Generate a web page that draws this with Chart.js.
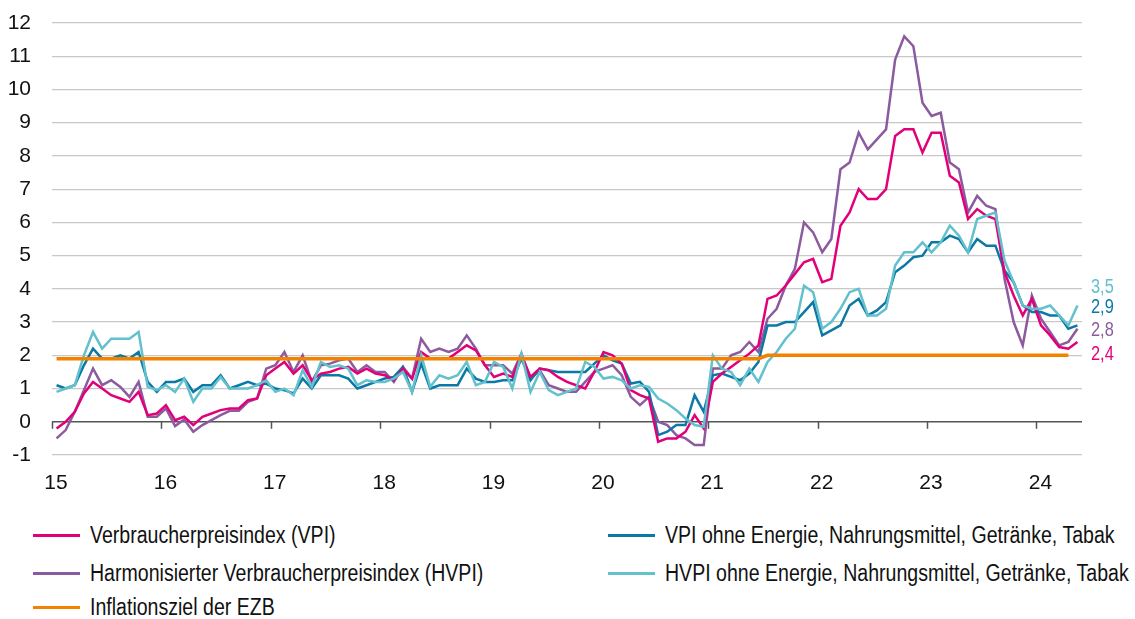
<!DOCTYPE html>
<html lang="de">
<head>
<meta charset="utf-8">
<script src="https://cdn.jsdelivr.net/npm/chart.js@4.4.1/dist/chart.umd.min.js"></script>
<style>
  html, body { margin: 0; padding: 0; background: #fff; }
  body { width: 1135px; height: 619px; position: relative; overflow: hidden;
         font-family: 'Liberation Sans', Arial, sans-serif; }
  #chart-box { position: absolute; left: 0; top: 0; width: 1135px; height: 510px; }
  .legend-item { position: absolute; height: 26px; display: flex; align-items: center;
                 font-size: 23px; color: #111; white-space: nowrap; }
  .legend-item .swatch { width: 47px; height: 3px; margin-right: 10px; flex: none; }
  .legend-item .txt { display: inline-block; transform: scaleX(0.85); transform-origin: left center; }
</style>
</head>
<body>
<div id="chart-box"><canvas id="inflation"></canvas></div>
<div id="legend"></div>

<script>
// Monatswerte Jan 2015 - Mai 2024, Veraenderung zum Vorjahresmonat in %
const firstYear = 2015;
const yearLabels = ['15', '16', '17', '18', '19', '20', '21', '22', '23', '24'];

const vpi = [
  -0.2, 0.0, 0.3, 0.85, 1.2, 1.0, 0.8, 0.7, 0.6, 0.9, 0.2, 0.25,
  0.5, 0.05, 0.15, -0.1, 0.15, 0.25, 0.35, 0.4, 0.4, 0.65, 0.7, 1.4,
  1.6, 1.8, 1.45, 1.7, 1.25, 1.45, 1.5, 1.6, 1.65, 1.45, 1.6, 1.45,
  1.4, 1.25, 1.6, 1.3, 2.1, 1.9, 1.9, 1.9, 2.1, 2.3, 2.15, 1.7,
  1.35, 1.45, 1.35, 2.0, 1.35, 1.6, 1.55, 1.35, 1.2, 1.1, 1.0, 1.5,
  2.1, 2.0, 1.75, 0.95, 0.8, 0.7, -0.6, -0.5, -0.5, -0.3, 0.2, -0.2,
  1.2, 1.45, 1.65, 1.85, 2.05, 2.3, 3.7, 3.8, 4.1, 4.45, 4.8, 4.9,
  4.2, 4.3, 5.9, 6.3, 7.0, 6.7, 6.7, 7.0, 8.6, 8.8, 8.8, 8.1,
  8.7, 8.7, 7.4, 7.2, 6.1, 6.4, 6.2, 6.1, 4.5, 3.8, 3.2, 3.7,
  2.9, 2.6, 2.25, 2.2, 2.4
];

const hvpi = [
  -0.5, -0.25, 0.3, 0.95, 1.6, 1.1, 1.25, 1.05, 0.75, 1.2, 0.15, 0.15,
  0.4, -0.13, 0.07, -0.3, -0.1, 0.05, 0.2, 0.33, 0.33, 0.6, 0.7, 1.6,
  1.7, 2.1, 1.5, 2.0, 1.2, 1.7, 1.75, 1.85, 1.9, 1.5, 1.7, 1.5,
  1.5, 1.2, 1.65, 1.3, 2.5, 2.1, 2.2, 2.1, 2.2, 2.6, 2.2, 1.7,
  1.7, 1.7, 1.45, 2.05, 1.3, 1.55, 1.1, 1.0, 0.9, 0.9, 1.2, 1.5,
  1.6, 1.7, 1.4, 0.75, 0.5, 0.75, 0.0, -0.1, -0.4, -0.5, -0.7, -0.7,
  1.6, 1.6, 2.0, 2.1, 2.4, 2.1, 3.1, 3.4, 4.1, 4.6, 6.0, 5.7,
  5.1, 5.5, 7.6, 7.8, 8.7, 8.2, 8.5, 8.8, 10.9, 11.6, 11.3, 9.6,
  9.2, 9.3, 7.8, 7.6, 6.3, 6.8, 6.5, 6.4, 4.3, 3.0, 2.3, 3.8,
  3.1, 2.7, 2.3, 2.4, 2.8
];

const vpiKern = [
  1.1, 1.0, 1.1, 1.7, 2.2, 1.9, 1.9, 2.0, 1.9, 2.1, 1.2, 0.9,
  1.2, 1.2, 1.3, 0.9, 1.1, 1.1, 1.4, 1.0, 1.1, 1.2, 1.1, 1.15,
  1.0, 0.95, 0.85, 1.3, 1.0, 1.4, 1.4, 1.4, 1.3, 1.0, 1.1, 1.2,
  1.3, 1.35, 1.65, 0.9, 1.75, 1.0, 1.1, 1.1, 1.1, 1.6, 1.3, 1.2,
  1.2, 1.25, 1.25, 1.9, 1.25, 1.6, 1.55, 1.5, 1.5, 1.5, 1.5, 1.75,
  2.0, 1.85, 1.75, 1.15, 1.2, 0.9, -0.4, -0.3, -0.1, -0.1, 0.8, 0.3,
  1.4, 1.45, 1.35, 1.25, 1.45, 1.8, 2.9, 2.9, 3.0, 3.0, 3.3, 3.6,
  2.6, 2.75, 2.9, 3.5, 3.7, 3.2, 3.35, 3.6, 4.5, 4.7, 4.95, 5.0,
  5.4, 5.4, 5.6, 5.5, 5.1, 5.5, 5.3, 5.3, 4.55, 4.2, 3.5, 3.3,
  3.3, 3.2, 3.2, 2.8, 2.9
];

const hvpiKern = [
  0.9, 1.0, 1.1, 2.0, 2.7, 2.2, 2.5, 2.5, 2.5, 2.7, 1.05, 0.95,
  1.1, 0.9, 1.3, 0.6, 1.0, 1.0, 1.35, 1.0, 1.0, 1.0, 1.1, 1.25,
  0.9, 1.0, 0.8, 1.55, 1.05, 1.8, 1.65, 1.7, 1.6, 1.1, 1.25, 1.2,
  1.2, 1.3, 1.5, 0.9, 2.0, 1.05, 1.4, 1.3, 1.4, 1.8, 1.1, 1.2,
  1.8, 1.65, 1.0, 2.05, 0.9, 1.5, 0.95, 0.8, 0.9, 1.0, 1.8, 1.65,
  1.3, 1.35, 1.25, 1.0, 1.1, 1.05, 0.7, 0.55, 0.35, 0.1, -0.1, -0.15,
  2.0, 1.6, 1.5, 1.1, 1.6, 1.2, 1.8, 2.1, 2.5, 2.8, 4.1, 3.9,
  2.8, 3.0, 3.4, 3.9, 4.0, 3.2, 3.2, 3.4, 4.7, 5.1, 5.1, 5.4,
  5.1, 5.4, 5.9, 5.6, 5.1, 6.1, 6.2, 6.3, 4.85, 4.2, 3.5, 3.4,
  3.4, 3.5, 3.2, 2.9, 3.5
];

// Inflationsziel: Eckpunkte der Linie (Strategiewechsel Juli 2021)
const zielMonate = ['2015-01', '2021-06', '2021-07', '2024-04'];
const zielWerte = [1.9, 1.9, 2.0, 2.0];

const farben = {
  vpi: '#e2007a',
  hvpi: '#8b5a9f',
  vpiKern: '#0b78a6',
  hvpiKern: '#63c0cd',
  ziel: '#f28200'
};

const schrift = "'Liberation Sans', Arial, sans-serif";

function monthIndex(str) {
  const [y, m] = str.split('-').map(Number);
  return (y - firstYear) * 12 + (m - 1);
}

// Punkte in die Monatsmitte setzen
function toPoints(values) {
  return values.map((v, i) => ({ x: i + 0.5, y: v }));
}

const zielPunkte = zielMonate.map((m, i) => ({ x: monthIndex(m) + 0.5, y: zielWerte[i] }));
const monateGesamt = vpi.length;

// kleine Striche an der Nulllinie bei jedem Jahresanfang
const nullTicks = {
  id: 'nullTicks',
  beforeDatasetsDraw(chart) {
    const { ctx, scales: { x, y } } = chart;
    const y0 = y.getPixelForValue(0);
    ctx.save();
    ctx.strokeStyle = '#555';
    ctx.lineWidth = 1.5;
    for (let v = 0; v <= monateGesamt; v += 12) {
      const px = Math.round(x.getPixelForValue(v)) + 0.5;
      ctx.beginPath();
      ctx.moveTo(px, y0);
      ctx.lineTo(px, y0 + 7);
      ctx.stroke();
    }
    ctx.restore();
  }
};

// Endwerte rechts neben der Grafik (schmal gesetzt)
const endLabels = {
  id: 'endLabels',
  afterDatasetsDraw(chart) {
    const { ctx, chartArea, scales: { y } } = chart;
    const reihen = [
      { werte: hvpiKern, farbe: farben.hvpiKern, pos: 4.05 },
      { werte: vpiKern, farbe: farben.vpiKern, pos: 3.45 },
      { werte: hvpi, farbe: farben.hvpi, pos: 2.75 },
      { werte: vpi, farbe: farben.vpi, pos: 2.02 }
    ];
    ctx.save();
    ctx.font = '20px ' + schrift;
    ctx.textAlign = 'left';
    ctx.textBaseline = 'middle';
    reihen.forEach(r => {
      const last = r.werte[r.werte.length - 1];
      ctx.save();
      ctx.translate(chartArea.right + 9, y.getPixelForValue(r.pos));
      ctx.scale(0.82, 1);
      ctx.fillStyle = r.farbe;
      ctx.fillText(last.toFixed(1).replace('.', ','), 0, 0);
      ctx.restore();
    });
    ctx.restore();
  }
};

const ctx = document.getElementById('inflation').getContext('2d');
new Chart(ctx, {
  type: 'line',
  data: {
    datasets: [
      { label: 'Inflationsziel der EZB', data: zielPunkte, borderColor: farben.ziel, borderWidth: 3.5 },
      { label: 'HVPI ohne Energie, Nahrungsmittel, Getränke, Tabak', data: toPoints(hvpiKern), borderColor: farben.hvpiKern, borderWidth: 2.5 },
      { label: 'Verbraucherpreisindex (VPI)', data: toPoints(vpi), borderColor: farben.vpi, borderWidth: 2.5 },
      { label: 'VPI ohne Energie, Nahrungsmittel, Getränke, Tabak', data: toPoints(vpiKern), borderColor: farben.vpiKern, borderWidth: 2.5 },
      { label: 'Harmonisierter Verbraucherpreisindex (HVPI)', data: toPoints(hvpi), borderColor: farben.hvpi, borderWidth: 2.5 }
    ]
  },
  options: {
    responsive: true,
    maintainAspectRatio: false,
    animation: false,
    elements: { point: { radius: 0 }, line: { tension: 0, borderJoinStyle: 'miter' } },
    layout: { padding: { top: 23, right: 53, left: 0, bottom: 0 } },
    plugins: { legend: { display: false }, tooltip: { enabled: false } },
    scales: {
      x: {
        type: 'linear',
        min: 0,
        max: monateGesamt,
        afterFit(scale) { scale.height = 55; },
        border: { display: false },
        grid: { display: false, drawTicks: false },
        ticks: {
          stepSize: 12,
          includeBounds: false,
          autoSkip: false,
          padding: 16,
          labelOffset: 4,
          color: '#111',
          font: { family: schrift, size: 21 },
          maxRotation: 0,
          callback: v => (v % 12 === 0 && v / 12 < yearLabels.length) ? yearLabels[v / 12] : ''
        }
      },
      y: {
        min: -1,
        max: 12,
        afterFit(scale) {
          scale.width = 52;
          // Beschriftungsabstand nicht in den oberen Rand einrechnen
          scale.paddingTop = 10;
          scale.paddingBottom = 10;
        },
        border: { display: false },
        grid: {
          drawTicks: false,
          lineWidth: c => c.tick && c.tick.value === 0 ? 1.5 : 1.3,
          color: c => c.tick && c.tick.value === 0 ? '#555' : '#c8c8c8'
        },
        ticks: {
          stepSize: 1,
          padding: 21,
          color: '#111',
          font: { family: schrift, size: 21 }
        }
      }
    }
  },
  plugins: [nullTicks, endLabels]
});

// Legende
const legendeEintraege = [
  { text: 'Verbraucherpreisindex (VPI)', farbe: farben.vpi, left: 33, top: 522 },
  { text: 'VPI ohne Energie, Nahrungsmittel, Getränke, Tabak', farbe: farben.vpiKern, left: 608, top: 522 },
  { text: 'Harmonisierter Verbraucherpreisindex (HVPI)', farbe: farben.hvpi, left: 33, top: 560 },
  { text: 'HVPI ohne Energie, Nahrungsmittel, Getränke, Tabak', farbe: farben.hvpiKern, left: 608, top: 560 },
  { text: 'Inflationsziel der EZB', farbe: farben.ziel, left: 33, top: 594 }
];
const legendEl = document.getElementById('legend');
legendeEintraege.forEach(e => {
  const item = document.createElement('div');
  item.className = 'legend-item';
  item.style.left = e.left + 'px';
  item.style.top = e.top + 'px';
  item.innerHTML = `<span class="swatch" style="background:${e.farbe}"></span><span class="txt">${e.text}</span>`;
  legendEl.appendChild(item);
});
</script>
</body>
</html>
